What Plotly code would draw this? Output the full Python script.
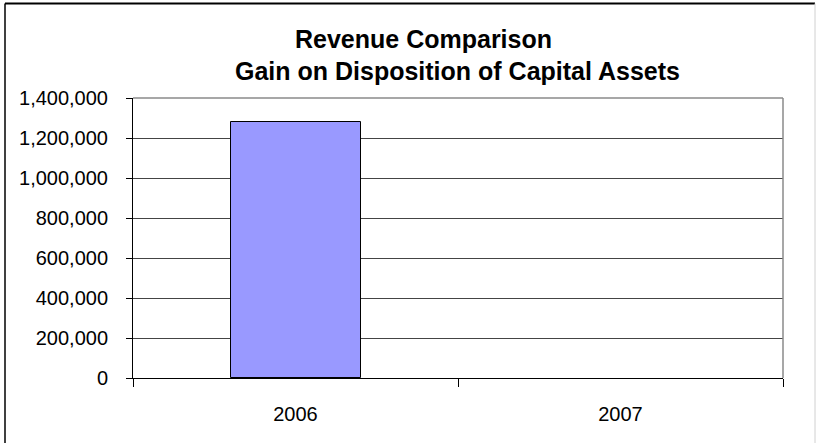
import plotly.graph_objects as go

categories = ["2006", "2007"]
values = [1281500, 0]
y_tickvals = [0, 200000, 400000, 600000, 800000, 1000000, 1200000, 1400000]
title_line1 = "Revenue Comparison"
title_line2 = "Gain on Disposition of Capital Assets"

W, H = 817, 443
L, R, T, B = 133, 783, 98, 378

def px_x(p):
    return (p - L) / (R - L)

def px_y(p):
    return (B - p) / (B - T)

FONT = "Liberation Sans, Arial, sans-serif"

fig = go.Figure()
fig.add_trace(go.Bar(
    x=categories, y=values, width=0.4,
    marker=dict(color="#9999FF",
                line=dict(color="#000000", width=[1 if v else 0 for v in values])),
))

fig.update_layout(
    width=W, height=H,
    margin=dict(l=L, r=W - R, t=T, b=H - B, pad=0),
    paper_bgcolor="white", plot_bgcolor="white",
    showlegend=False,
    font=dict(family=FONT, color="black", size=20),
    bargap=0,
)
fig.update_xaxes(
    type="category", range=[-0.5, 1.5],
    showline=True, linecolor="black", linewidth=1,
    ticks="outside", ticklen=8, tickcolor="black", tickwidth=1,
    tickson="boundaries", showgrid=False,
    tickfont=dict(size=20, family=FONT), ticklabelstandoff=18,
)
fig.update_yaxes(
    range=[0, 1400000], tickvals=y_tickvals, tickformat=",d",
    showline=True, linecolor="black", linewidth=1,
    ticks="outside", ticklen=6, tickcolor="black", tickwidth=1,
    showgrid=True, gridcolor="#444444", gridwidth=1, zeroline=False,
    tickfont=dict(size=20, family=FONT), ticklabelstandoff=14,
)

# plot area border (top & right, gray)
fig.add_shape(type="line", xref="paper", yref="paper", x0=0, x1=1, y0=1, y1=1,
              line=dict(color="#8a8a8a", width=1.5), layer="above")
fig.add_shape(type="line", xref="paper", yref="paper", x0=1, x1=1, y0=0, y1=1,
              line=dict(color="#8a8a8a", width=1.5), layer="above")

# outer chart border
fig.add_shape(type="line", xref="paper", yref="paper",
              x0=px_x(5), x1=px_x(815), y0=px_y(3.5), y1=px_y(3.5),
              line=dict(color="#000000", width=2))
fig.add_shape(type="line", xref="paper", yref="paper",
              x0=px_x(5), x1=px_x(5), y0=px_y(3.5), y1=px_y(450),
              line=dict(color="#000000", width=1.5))
fig.add_shape(type="line", xref="paper", yref="paper",
              x0=px_x(815), x1=px_x(815), y0=px_y(3.5), y1=px_y(450),
              line=dict(color="#d0d0d0", width=1))

fig.add_annotation(text=title_line1, xref="paper", yref="paper",
                   x=px_x(423.5), y=px_y(39), xanchor="center", yanchor="middle",
                   showarrow=False, font=dict(family=FONT, size=25, color="black", weight="bold"))
fig.add_annotation(text=title_line2, xref="paper", yref="paper",
                   x=px_x(457.5), y=px_y(71), xanchor="center", yanchor="middle",
                   showarrow=False, font=dict(family=FONT, size=25, color="black", weight="bold"))

fig.write_html("out.html", config={"displayModeBar": False},
               post_script="document.body.style.margin='0px';document.body.style.overflow='hidden';")
